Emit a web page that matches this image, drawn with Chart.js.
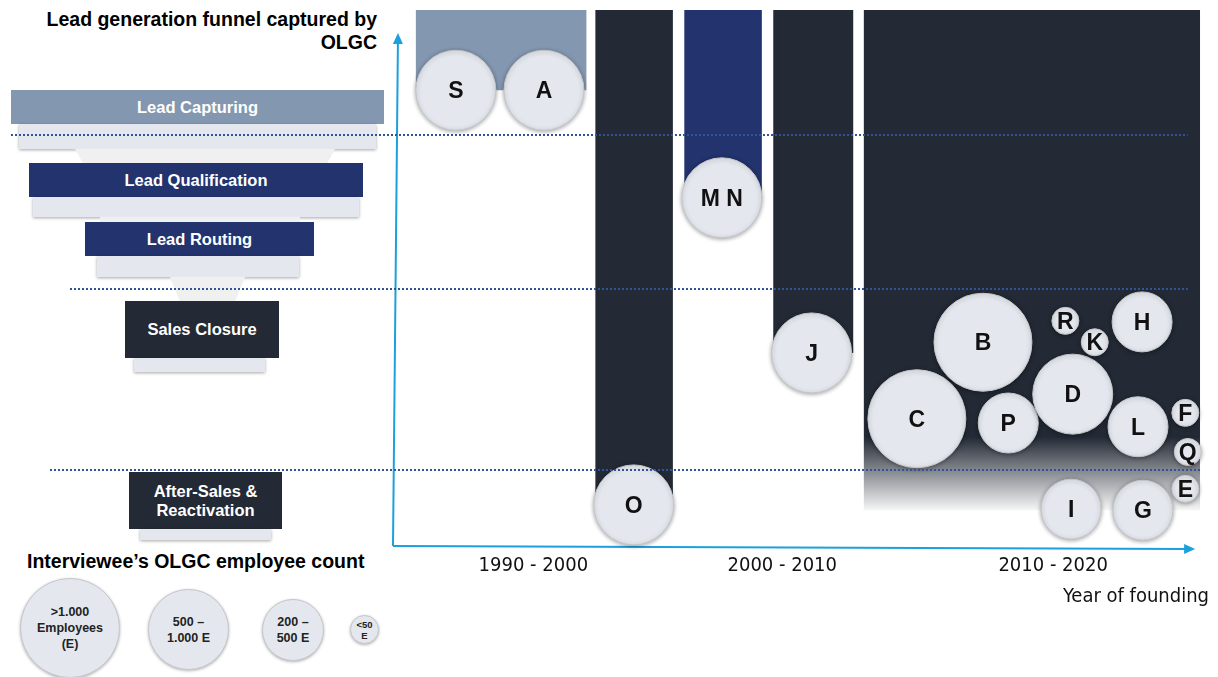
<!DOCTYPE html>
<html>
<head>
<meta charset="utf-8">
<script src="https://cdn.jsdelivr.net/npm/chart.js@4.4.1/dist/chart.umd.min.js"></script>
<style>
  html, body { margin: 0; padding: 0; background: #fff; }
  body { width: 1218px; height: 677px; position: relative; overflow: hidden; font-family: 'Liberation Sans', Arial, sans-serif; }
  #chart { position: absolute; left: 0; top: 0; z-index: 2; }
  .box { position: absolute; display: flex; align-items: center; justify-content: center; text-align: center; color: #fff; font-weight: bold; font-size: 16.5px; line-height: 19px; }
  .base { position: absolute; background: #E4E8EE; box-shadow: 0 1px 3px rgba(0,0,0,.35); }
  .neck { position: absolute; background: #F0F0F0; }
  .title { position: absolute; font-weight: bold; font-size: 19.5px; line-height: 23px; color: #000; white-space: nowrap; }
  .size { position: absolute; border-radius: 50%; background: #E4E8EE; border: 1px solid #C4C8CD; box-shadow: 0 1px 3px rgba(0,0,0,.3); display: flex; align-items: center; justify-content: center; text-align: center; font-weight: bold; font-size: 12.5px; line-height: 16px; color: #222; box-sizing: border-box; }
</style>
</head>
<body>

<div class="title" style="right:841px; top:8px; text-align:right;">Lead generation funnel captured by<br>OLGC</div>

<!-- funnel -->
<div class="box" style="left:11px; top:90px; width:373px; height:34px; background:#8497B0;">Lead Capturing</div>
<div class="base" style="left:19px; top:124px; width:357px; height:25px;"></div>
<div class="neck" style="left:75px; top:149px; width:260px; height:14px; clip-path:polygon(0 0,100% 0,97% 100%,3% 100%);"></div>
<div class="box" style="left:29px; top:163px; width:334px; height:34px; background:#22336D;">Lead Qualification</div>
<div class="base" style="left:33px; top:197px; width:326px; height:20px;"></div>
<div class="neck" style="left:100px; top:217px; width:200px; height:5px;"></div>
<div class="box" style="left:85px; top:222px; width:229px; height:34px; background:#22336D;">Lead Routing</div>
<div class="base" style="left:97px; top:256px; width:202px; height:21px;"></div>
<div class="neck" style="left:170px; top:277px; width:75px; height:24px; clip-path:polygon(0 0,100% 0,87% 100%,13% 100%);"></div>
<div class="box" style="left:125px; top:301px; width:154px; height:57px; background:#232A35;">Sales Closure</div>
<div class="base" style="left:134px; top:358px; width:131px; height:14px;"></div>
<div class="box" style="left:129px; top:472px; width:153px; height:57px; background:#232A35;">After-Sales &amp;<br>Reactivation</div>
<div class="base" style="left:140px; top:529px; width:131px; height:11px;"></div>

<!-- size legend -->
<div class="title" style="left:27px; top:550px;">Interviewee’s OLGC employee count</div>
<div class="size" style="left:20px; top:578px; width:100px; height:100px;">&gt;1.000<br>Employees<br>(E)</div>
<div class="size" style="left:148px; top:589px; width:81px; height:81px;">500 –<br>1.000 E</div>
<div class="size" style="left:262px; top:599px; width:62px; height:62px;">200 –<br>500 E</div>
<div class="size" style="left:350px; top:615px; width:29px; height:29px; font-size:9.5px; line-height:11px;">&lt;50<br>E</div>

<canvas id="chart" width="1218" height="677"></canvas>

<script>
// Interviewed OLGCs: position on founding axis, funnel depth covered, employee class (4 = >1.000 ... 1 = <50)
const companies = ['S', 'A', 'O', 'M N', 'J', 'C', 'B', 'P', 'D', 'R', 'K', 'H', 'L', 'F', 'Q', 'E', 'I', 'G'];
const founding = [7.7, 18.5, 29.5, 40.3, 51.3, 64.2, 72.3, 75.4, 83.3, 82.4, 86.0, 91.8, 91.3, 97.1, 97.4, 97.1, 83.1, 91.9];
const funnelDepth = [85.0, 85.0, 7.5, 64.9, 35.9, 23.6, 37.9, 22.8, 28.2, 41.9, 37.9, 41.7, 22.1, 24.7, 17.4, 10.5, 6.7, 6.5];
const employeeClass = [3, 3, 3, 3, 3, 4, 4, 2, 3, 1, 1, 2, 2, 1, 1, 1, 2, 2];

// Columns of funnel coverage
const columnFrom = [2.8, 24.8, 35.7, 46.6, 57.7];
const columnTo = [23.7, 34.3, 45.2, 56.4, 98.9];
const columnDepth = [85.0, 7.5, 64.9, 35.9, 6.5];

// Borders between funnel stages
const stageBounds = [76.6, 47.9, 14.0];

// x axis
const decadeTicks = [17.2, 47.7, 80.9];
const decadeLabels = ['1990 - 2000', '2000 - 2010', '2010 - 2020'];

// styles
const classRadius = {1: 13.5, 2: 30, 3: 40, 4: 49};
const columnColors = ['#8497B0', '#232A35', '#22336D', '#232A35', '#232A35'];
const fadeFrom = 20.2;        // last column fades out below this depth
const stageLineLeft = [11, 70, 50];
const stageLineRight = [97.4, 97.4, 98.9];
const arrowEnd = {x: 98.3, y: 95.7};
const axisBlue = '#1AA0DC';
const narrow = "'Liberation Sans Narrow', 'DejaVu Sans Condensed', sans-serif";

function arrow(ctx, x0, y0, x1, y1) {
    const a = Math.atan2(y1 - y0, x1 - x0);
    const c = Math.cos(a), s = Math.sin(a);
    ctx.beginPath();
    ctx.moveTo(x0, y0);
    ctx.lineTo(x1 - 8 * c, y1 - 8 * s);
    ctx.stroke();
    ctx.beginPath();
    ctx.moveTo(x1, y1);
    ctx.lineTo(x1 - 11 * c + 5 * s, y1 - 11 * s - 5 * c);
    ctx.lineTo(x1 - 11 * c - 5 * s, y1 - 11 * s + 5 * c);
    ctx.closePath();
    ctx.fill();
}

const background = {
    id: 'background',
    beforeDatasetsDraw(chart) {
        const {ctx, chartArea: area, scales: {x, y}} = chart;
        const top = y.getPixelForValue(y.max);
        ctx.save();
        columnFrom.forEach((from, i) => {
            const l = x.getPixelForValue(from);
            const r = x.getPixelForValue(columnTo[i]);
            const b = y.getPixelForValue(columnDepth[i]);
            let fill = columnColors[i];
            if (i === columnFrom.length - 1) {
                fill = ctx.createLinearGradient(0, y.getPixelForValue(fadeFrom), 0, b);
                fill.addColorStop(0, '#232A35');
                fill.addColorStop(1, '#F6F6F6');
            }
            ctx.fillStyle = fill;
            ctx.fillRect(l, top, r - l, b - top);
        });
        // axes
        ctx.strokeStyle = axisBlue;
        ctx.fillStyle = axisBlue;
        ctx.lineWidth = 2;
        arrow(ctx, area.left, area.bottom + 1, area.left + 5, y.getPixelForValue(arrowEnd.y));
        arrow(ctx, area.left, area.bottom + 1, x.getPixelForValue(arrowEnd.x), area.bottom + 4);
        ctx.restore();
    },
    beforeDatasetDraw(chart) {
        const ctx = chart.ctx;
        ctx.save();
        ctx.shadowColor = 'rgba(0,0,0,0.35)';
        ctx.shadowBlur = 4;
        ctx.shadowOffsetY = 1;
    },
    afterDatasetDraw(chart) {
        chart.ctx.restore();
    },
    afterDatasetsDraw(chart) {
        const {ctx, scales: {x, y}} = chart;
        const meta = chart.getDatasetMeta(0);
        ctx.save();
        ctx.font = "bold 23px 'Liberation Sans', Arial, sans-serif";
        ctx.fillStyle = '#111';
        ctx.textAlign = 'center';
        ctx.textBaseline = 'middle';
        meta.data.forEach((pt, i) => ctx.fillText(companies[i], pt.x, pt.y + 1.5));
        // dotted stage borders
        ctx.strokeStyle = '#2F5597';
        ctx.lineWidth = 2;
        ctx.setLineDash([2, 2]);
        stageBounds.forEach((v, i) => {
            const py = Math.round(y.getPixelForValue(v));
            ctx.beginPath();
            ctx.moveTo(stageLineLeft[i], py);
            ctx.lineTo(x.getPixelForValue(stageLineRight[i]), py);
            ctx.stroke();
        });
        ctx.restore();
    }
};

new Chart(document.getElementById('chart'), {
    type: 'bubble',
    data: {
        datasets: [{
            data: companies.map((c, i) => ({x: founding[i], y: funnelDepth[i], r: classRadius[employeeClass[i]]})),
            backgroundColor: '#E4E8EE',
            borderColor: '#C2C6CB',
            borderWidth: 1,
            clip: false
        }]
    },
    options: {
        responsive: false,
        animation: false,
        events: [],
        layout: { autoPadding: false, padding: { left: 393, right: 9, top: 10, bottom: 68 } },
        plugins: { legend: { display: false }, tooltip: { enabled: false } },
        scales: {
            x: {
                type: 'linear',
                min: 0,
                max: 100,
                grid: { display: false, drawTicks: false },
                border: { display: false },
                afterBuildTicks: s => { s.ticks = decadeTicks.map(v => ({value: v})); },
                afterFit: s => { s.height = 64; },
                ticks: {
                    autoSkip: false,
                    maxRotation: 0,
                    padding: 9,
                    color: '#111',
                    font: { family: narrow, size: 20 },
                    callback: (v, i) => decadeLabels[i]
                },
                title: {
                    display: true,
                    text: 'Year of founding',
                    align: 'end',
                    padding: 0,
                    color: '#111',
                    font: { family: narrow, size: 20 }
                }
            },
            y: { display: false, min: 0, max: 100 }
        }
    },
    plugins: [background]
});
</script>
</body>
</html>
